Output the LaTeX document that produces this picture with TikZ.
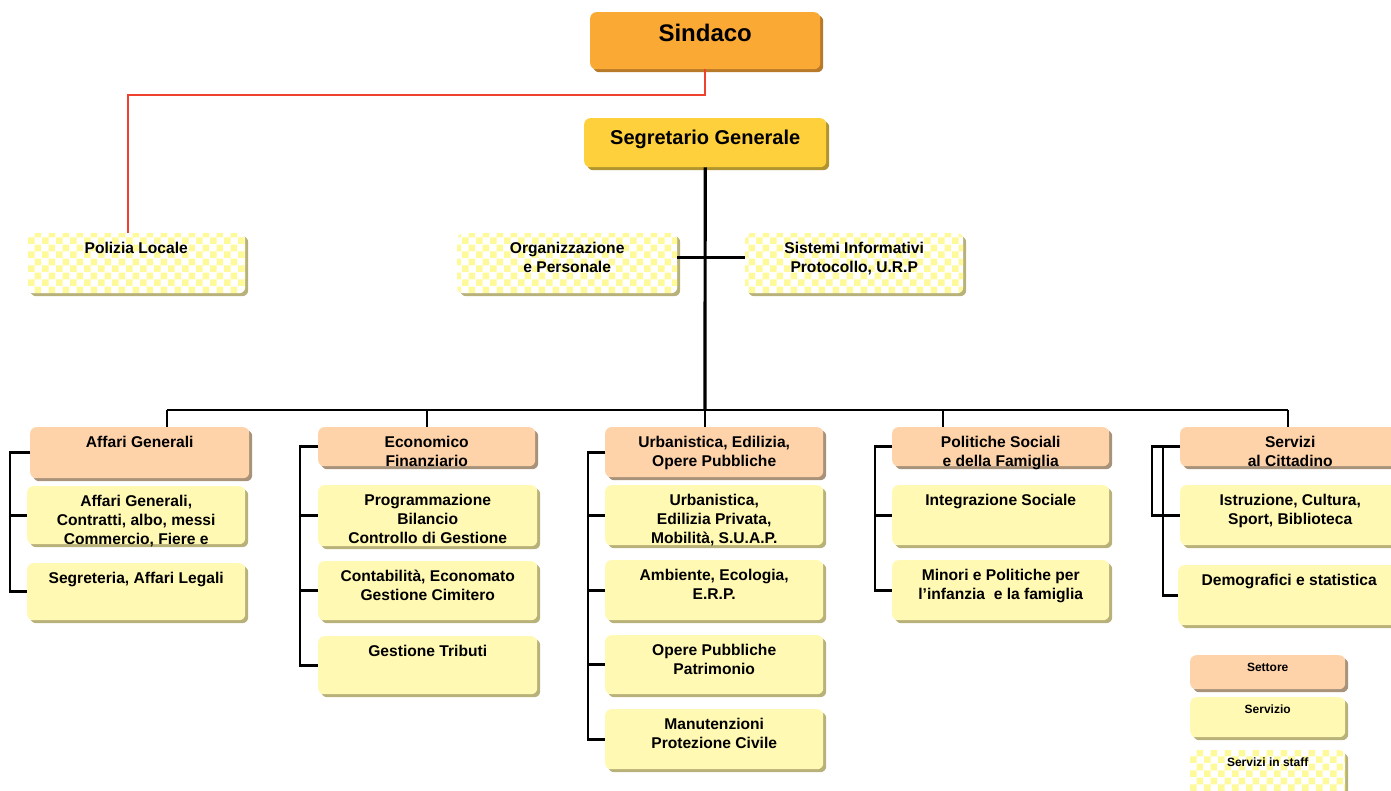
\documentclass[tikz,border=0pt]{standalone}
\usepackage{fontspec}
\setmainfont{Liberation Sans}
\usetikzlibrary{shadows,patterns}

\definecolor{sindacofill}{HTML}{FBA935}
\definecolor{sindacoshadow}{HTML}{B87A28}
\definecolor{segrfill}{HTML}{FDD03C}
\definecolor{segrshadow}{HTML}{B0942E}
\definecolor{settorefill}{HTML}{FED3AA}
\definecolor{settoreshadow}{HTML}{A8927A}
\definecolor{serviziofill}{HTML}{FFF9B3}
\definecolor{servshadow}{HTML}{B8B27A}
\definecolor{staffyellow}{HTML}{FFFA99}
\definecolor{redlink}{HTML}{F0402E}

% checker squares for the staff boxes
\pgfdeclarepatternformonly{staffcheck}{\pgfqpoint{0pt}{0pt}}{\pgfqpoint{14pt}{14pt}}{\pgfqpoint{14pt}{14pt}}{%
  \pgfpathrectangle{\pgfqpoint{0pt}{0pt}}{\pgfqpoint{7pt}{7pt}}%
  \pgfpathrectangle{\pgfqpoint{7pt}{7pt}}{\pgfqpoint{7pt}{7pt}}%
  \pgfusepath{fill}}

\tikzset{
  box/.style={anchor=north west, rounded corners=6pt, inner sep=0pt},
  chief/.style={box, fill=sindacofill,
    drop shadow={shadow xshift=3pt, shadow yshift=-3pt, fill=sindacoshadow, opacity=1}},
  segr/.style={box, fill=segrfill,
    drop shadow={shadow xshift=3pt, shadow yshift=-3pt, fill=segrshadow, opacity=1}},
  settore/.style={box, fill=settorefill,
    drop shadow={shadow xshift=3pt, shadow yshift=-3pt, fill=settoreshadow, opacity=1}},
  servizio/.style={box, fill=serviziofill,
    drop shadow={shadow xshift=3pt, shadow yshift=-3pt, fill=servshadow, opacity=1}},
  staff/.style={box,
    drop shadow={shadow xshift=3pt, shadow yshift=-3pt, fill=servshadow, opacity=1},
    preaction={fill=white}, pattern=staffcheck, pattern color=staffyellow},
  txt/.style={anchor=north, inner sep=0pt, align=center, yshift=-9pt,
    font=\fontsize{15.6}{19}\selectfont\bfseries},
  bigtxt/.style={txt, yshift=-3pt, font=\fontsize{24}{28}\selectfont\bfseries},
  segrtxt/.style={txt, yshift=-3pt, font=\fontsize{20}{24}\selectfont\bfseries},
  legtxt/.style={txt, yshift=1pt, font=\fontsize{12}{14}\selectfont\bfseries},
  link/.style={line width=2.6pt},
  trunk/.style={line width=3.2pt},
  redline/.style={redlink, line width=2.4pt}
}

\begin{document}
\begin{tikzpicture}[x=1pt, y=-1pt]
  \useasboundingbox (0,0) rectangle (1391,790);

  % top
  \node[chief, minimum width=230, minimum height=57, label={[bigtxt]north:Sindaco}] (sindaco) at (590,12) {};
  \node[segr, minimum width=242, minimum height=49, label={[segrtxt]north:Segretario Generale}] (segretario) at (584,118) {};

  % staff
  \node[staff, minimum width=218, minimum height=60, label={[txt]north:Polizia Locale}] (polizia) at (27,233) {};
  \node[staff, minimum width=220, minimum height=60, label={[txt]north:Organizzazione\\e Personale}] (organizz) at (457,233) {};
  \node[staff, minimum width=218, minimum height=60, label={[txt]north:Sistemi Informativi\\Protocollo, U.R.P}] (sistemi) at (745,233) {};

  % settori
  \node[settore, minimum width=219, minimum height=51, label={[txt]north:Affari Generali}] (ag) at (30,427) {};
  \node[settore, minimum width=217, minimum height=39, label={[txt]north:Economico\\Finanziario}] (ef) at (318,427) {};
  \node[settore, minimum width=218, minimum height=50, label={[txt]north:Urbanistica, Edilizia,\\Opere Pubbliche}] (ur) at (605,427) {};
  \node[settore, minimum width=217, minimum height=39, label={[txt]north:Politiche Sociali\\e della Famiglia}] (ps) at (892,427) {};
  \node[settore, minimum width=220, minimum height=39, label={[txt]north:Servizi\\al Cittadino}] (sc) at (1180,427) {};

  % servizi
  \node[servizio, minimum width=218, minimum height=58, label={[txt]north:Affari Generali,\\Contratti, albo, messi\\Commercio, Fiere e}] (ag1) at (27,486) {};
  \node[servizio, minimum width=218, minimum height=57, label={[txt]north:Segreteria, Affari Legali}] (ag2) at (27,563) {};

  \node[servizio, minimum width=219, minimum height=61, label={[txt]north:Programmazione\\Bilancio\\Controllo di Gestione}] (ef1) at (318,485) {};
  \node[servizio, minimum width=219, minimum height=59, label={[txt]north:Contabilità, Economato\\Gestione Cimitero}] (ef2) at (318,561) {};
  \node[servizio, minimum width=219, minimum height=58, label={[txt]north:Gestione Tributi}] (ef3) at (318,636) {};

  \node[servizio, minimum width=218, minimum height=60, label={[txt]north:Urbanistica,\\Edilizia Privata,\\Mobilità, S.U.A.P.}] (ur1) at (605,485) {};
  \node[servizio, minimum width=218, minimum height=60, label={[txt]north:Ambiente, Ecologia,\\E.R.P.}] (ur2) at (605,560) {};
  \node[servizio, minimum width=218, minimum height=59, label={[txt]north:Opere Pubbliche\\Patrimonio}] (ur3) at (605,635) {};
  \node[servizio, minimum width=218, minimum height=60, label={[txt]north:Manutenzioni\\Protezione Civile}] (ur4) at (605,709) {};

  \node[servizio, minimum width=217, minimum height=60, label={[txt]north:Integrazione Sociale}] (ps1) at (892,485) {};
  \node[servizio, minimum width=217, minimum height=60, label={[txt]north:Minori e Politiche per\\l’infanzia\ \ e la famiglia}] (ps2) at (892,560) {};

  \node[servizio, minimum width=220, minimum height=60, label={[txt]north:Istruzione, Cultura,\\Sport, Biblioteca}] (sc1) at (1180,485) {};
  \node[servizio, minimum width=222, minimum height=60, label={[txt]north:Demografici e statistica}] (sc2) at (1178,565) {};

  % legenda
  \node[settore, minimum width=155, minimum height=34, label={[legtxt]north:Settore}] (legset) at (1190,655) {};
  \node[servizio, minimum width=155, minimum height=40, label={[legtxt]north:Servizio}] (legserv) at (1190,697) {};
  \node[staff, minimum width=155, minimum height=45, label={[legtxt]north:Servizi in staff}] (legstaff) at (1190,750) {};

  % connectors
  \coordinate (redturn) at (128,95);
  \draw[redline] (sindaco.south) -- (sindaco.south |- redturn) -- (redturn) -- (redturn |- polizia.north);

  \coordinate (busAG) at (167,410);
  \coordinate (busEF) at (427,410);
  \coordinate (busUR) at (705,410);
  \coordinate (busPS) at (943,410);
  \coordinate (busSC) at (1288,410);

  \draw[trunk] (segretario.south) -- (busUR);
  \draw[link] ([yshift=6pt]organizz.east) -- ([yshift=6pt]sistemi.west);
  \draw[link] (busAG) -- (busSC);
  \foreach \b/\s in {busAG/ag, busEF/ef, busUR/ur, busPS/ps, busSC/sc}
    \draw[link] (\b) -- (\b |- \s.north);

  % brackets
  \draw[link] (ag.west) -- ++(-20,0) |- (ag2.west);
  \draw[link] (ag1.west) -- ++(-17,0);

  \draw[link] (ef.west) -- ++(-18,0) |- (ef3.west);
  \foreach \s in {ef1, ef2}
    \draw[link] (\s.west) -- ++(-18,0);

  \draw[link] (ur.west) -- ++(-17,0) |- (ur4.west);
  \foreach \s in {ur1, ur2, ur3}
    \draw[link] (\s.west) -- ++(-17,0);

  \draw[link] (ps.west) -- ++(-17,0) |- (ps2.west);
  \draw[link] (ps1.west) -- ++(-17,0);

  \draw[link] (sc.west) -- ++(-28,0) |- (sc1.west);
  \draw[link] (sc.west) -- ++(-17,0) |- (sc2.west);
\end{tikzpicture}
\end{document}
